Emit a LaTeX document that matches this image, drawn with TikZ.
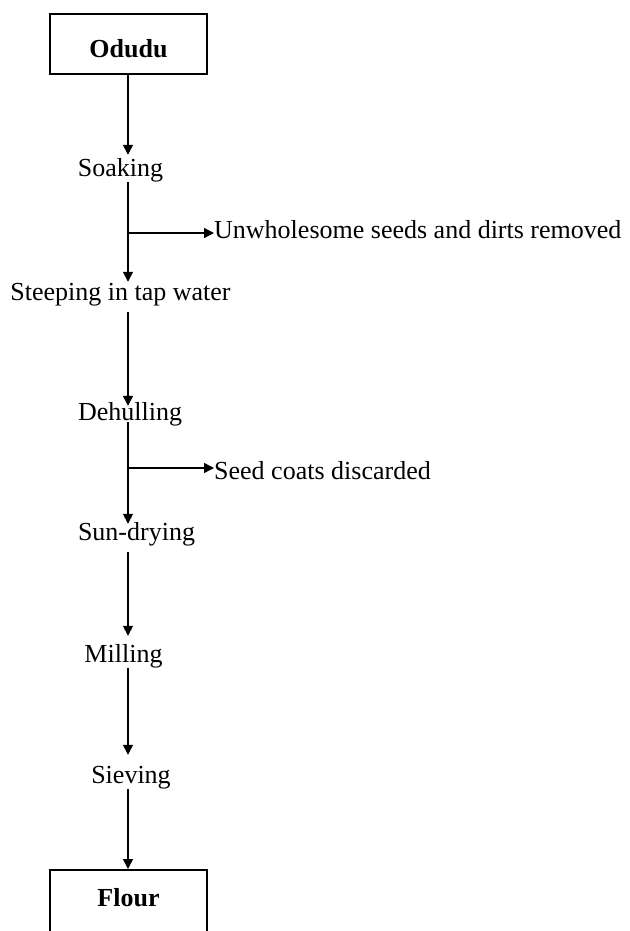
\documentclass[tikz,border=0pt]{standalone}
\usepackage{fontspec}
\setmainfont{Liberation Serif}
\usetikzlibrary{arrows.meta}
\begin{document}
\begin{tikzpicture}[x=1pt,y=-1pt,
  every node/.style={font=\fontsize{26}{30}\selectfont},
  stepnode/.style={inner sep=0pt,text height=18pt,text depth=6pt,anchor=base},
  sidenode/.style={inner sep=0pt,anchor=base west},
  endbox/.style={draw,line width=2pt,inner sep=0pt,minimum width=157pt,font=\fontsize{26}{30}\selectfont\bfseries,anchor=north},
  arr/.style={line width=1.4pt,-{Triangle[width=10pt,length=10pt]}},
  conn/.style={line width=1.4pt}]
\useasboundingbox (0,0) rectangle (629,931);
\coordinate (spine) at (128,0);
\node[endbox,text height=44pt,text depth=16pt] (odudu) at (128.5,13) {Odudu};
\node[stepnode] (soak) at (120.5,176) {Soaking};
\node[stepnode] (steep) at (120.5,300) {Steeping in tap water};
\node[stepnode] (dehull) at (130,420) {Dehulling};
\node[stepnode] (sun) at (136.5,540) {Sun-drying};
\node[stepnode] (mill) at (123.5,662) {Milling};
\node[stepnode] (sieve) at (131,783) {Sieving};
\node[endbox,text height=36pt,text depth=40pt] (flour) at (128.5,869) {Flour};
\node[sidenode] (unw) at (214,238) {Unwholesome seeds and dirts removed};
\node[sidenode] (seed) at (214,479) {Seed coats discarded};
\coordinate (b1) at (128,233);
\coordinate (b2) at (128,468);
\draw[arr,shorten >=3pt] (odudu.south -| spine) -- (soak.north -| spine);
\draw[arr] (soak.south -| spine) -- (steep.north -| spine);
\draw[arr,shorten <=6pt,shorten >=-4pt] (steep.south -| spine) -- (dehull.north -| spine);
\draw[arr,shorten <=-4pt,shorten >=-2pt] (dehull.south -| spine) -- (sun.north -| spine);
\draw[arr,shorten <=6pt,shorten >=8pt] (sun.south -| spine) -- (mill.north -| spine);
\draw[arr,shorten >=10pt] (mill.south -| spine) -- (sieve.north -| spine);
\draw[arr] (sieve.south -| spine) -- (flour.north -| spine);
\draw[arr] (b1) -- (b1 -| unw.west);
\draw[arr] (b2) -- (b2 -| seed.west);
\end{tikzpicture}
\end{document}
